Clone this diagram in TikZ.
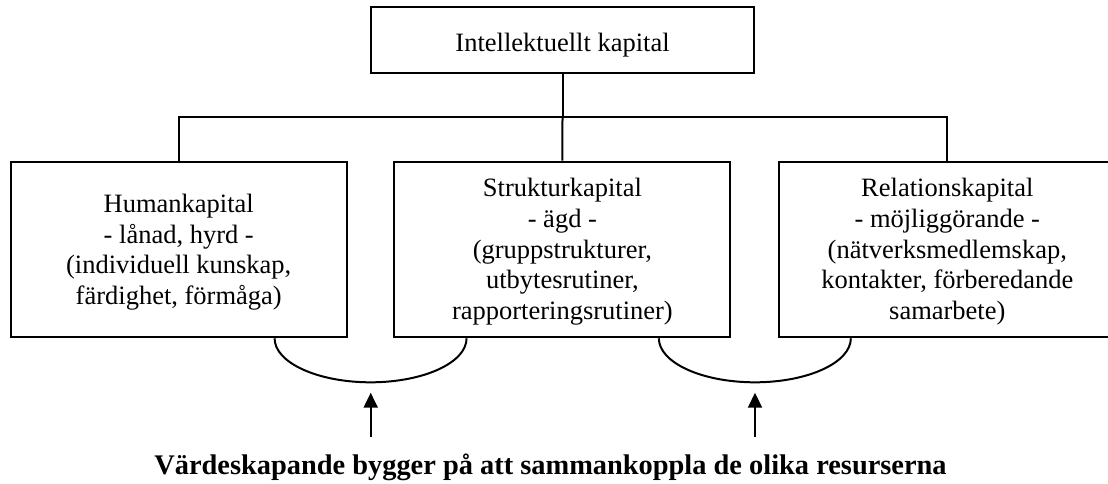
\documentclass[tikz,border=0pt]{standalone}
\usepackage{fontspec}
\setmainfont{Liberation Serif}
\usetikzlibrary{arrows.meta,calc}

% invisible rule that sets the height of the first line of a box
\newcommand{\lineup}[1]{\rule{0pt}{#1}}

\begin{document}
\begin{tikzpicture}[x=1pt,y=-1pt,
  line width=2pt,
  topbox/.style={draw, rectangle, line width=2pt, inner sep=0pt, align=center,
    font=\fontsize{26.5}{30.7}\selectfont,
    minimum width=383.6pt, minimum height=65.7pt},
  capbox/.style={draw, rectangle, line width=2pt, inner sep=0pt, align=center,
    font=\fontsize{26.5}{30.7}\selectfont,
    minimum width=336pt, minimum height=175.6pt},
  link/.style={line width=2pt},
  bond/.style={line width=2pt},
  pointer/.style={line width=2pt, -{Triangle[length=15pt,width=14pt]}},
  caption/.style={font=\bfseries\fontsize{28.4}{32}\selectfont, anchor=base, inner sep=0pt}
]
\useasboundingbox (0,0) rectangle (1108,483);
\clip (0,0) rectangle (1108,483);

% top of the hierarchy
\node[topbox] (ic) at (562.5,40.2) {\lineup{27.3pt}Intellektuellt kapital};

% the three kinds of capital
\node[capbox] (hum) at (178.75,249.5)
  {\lineup{24pt}Humankapital\\- lånad, hyrd -\\(individuell kunskap,\\färdighet, förmåga)};
\node[capbox] (str) at (562.4,249.5)
  {\lineup{23pt}Strukturkapital\\- ägd -\\(gruppstrukturer,\\utbytesrutiner,\\rapporteringsrutiner)};
\node[capbox] (rel) at (947.3,249.5)
  {\lineup{23pt}Relationskapital\\- möjliggörande -\\(nätverksmedlemskap,\\kontakter, förberedande\\samarbete)};

% tree connectors
\coordinate (bus) at (562.5,117.3);
\draw[link] (ic.south) -- (bus);
\draw[link] (hum.north) |- (bus) -| (rel.north);
\draw[link] (bus) -- (str.north);

% half-ellipses joining neighbouring boxes
\coordinate (j1) at ($(hum.south east)!0.5!(str.south west)$);
\coordinate (j2) at ($(str.south east)!0.5!(rel.south west)$);
\draw[bond] ([xshift=-96pt]j1) arc[start angle=180, end angle=360, x radius=96pt, y radius=44pt];
\draw[bond] ([xshift=-96pt]j2) arc[start angle=180, end angle=360, x radius=96pt, y radius=44pt];

% caption and arrows pointing up to the joins
\node[caption] (note) at (550.5,474) {Värdeskapande bygger på att sammankoppla de olika resurserna};
\coordinate (t1) at (370.7,436.7);
\coordinate (h1) at (370.7,392.7);
\coordinate (t2) at (755,436.7);
\coordinate (h2) at (755,392.7);
\draw[pointer] (t1) -- (h1);
\draw[pointer] (t2) -- (h2);
\end{tikzpicture}
\end{document}
